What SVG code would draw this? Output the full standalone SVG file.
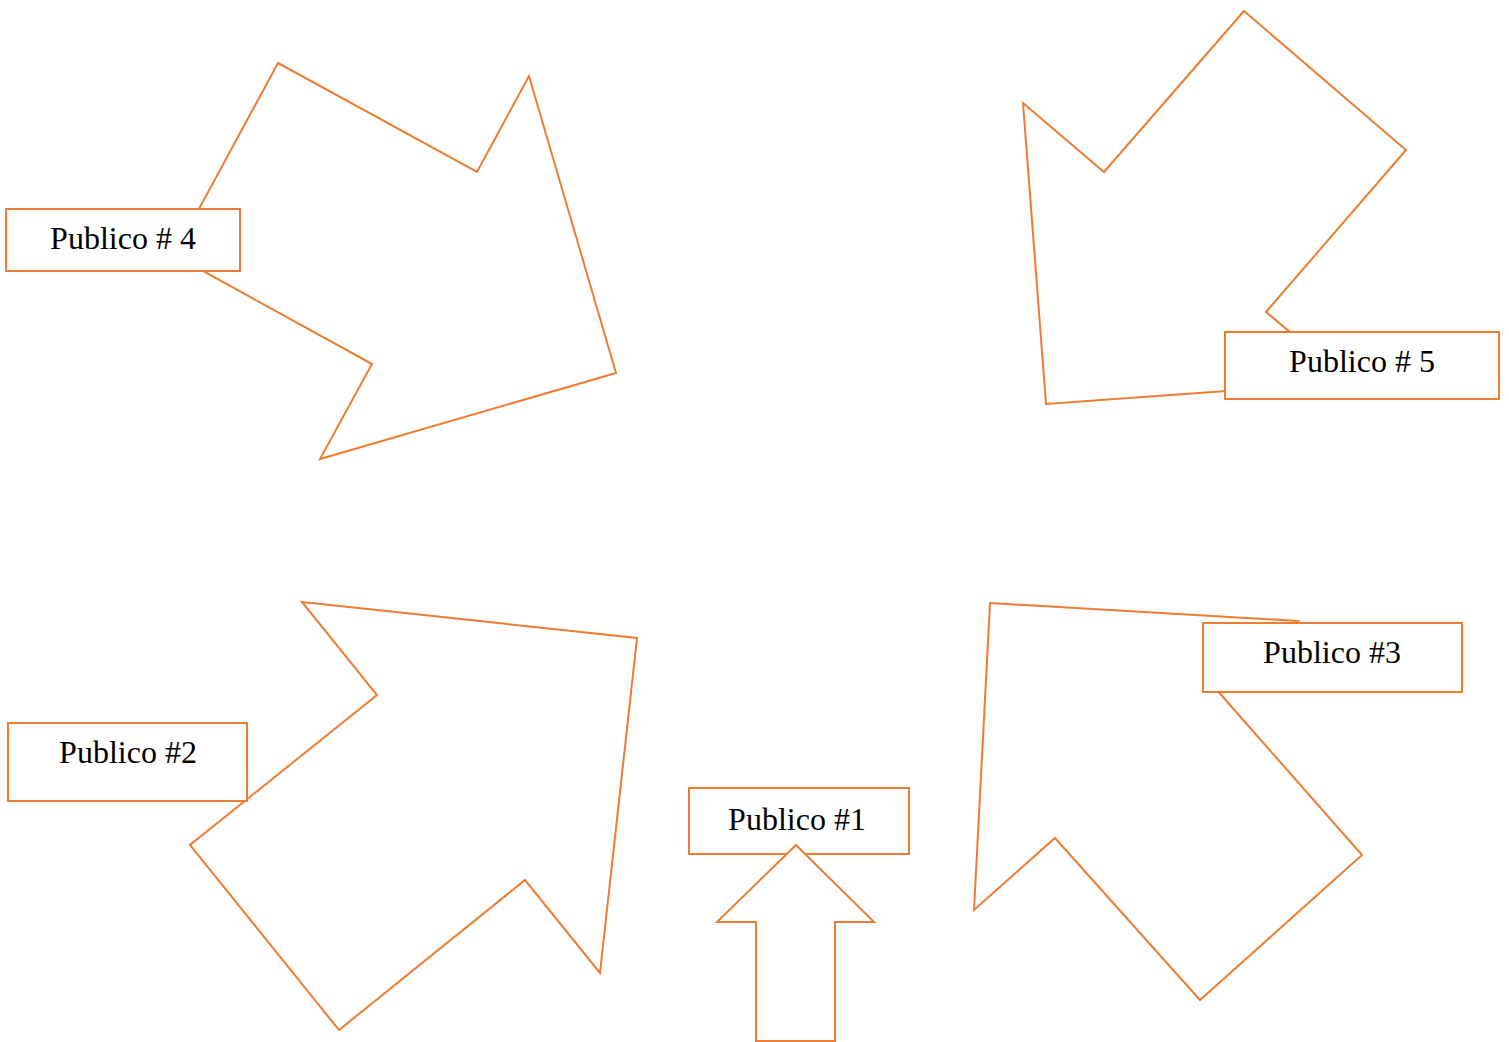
<svg xmlns="http://www.w3.org/2000/svg" width="1509" height="1042" viewBox="0 0 1509 1042">
<style>
.arrow{fill:#ffffff;stroke:#ED7D31;stroke-width:2;stroke-linejoin:miter}
.box{fill:#ffffff;stroke:#ED7D31;stroke-width:2}
.lbl{font-family:"Liberation Serif","Times New Roman",serif;font-size:32px;fill:#000000;text-anchor:middle}
</style>
<rect width="1509" height="1042" fill="#ffffff"/>
<g id="connectors">
<polygon id="arrow4" class="arrow" points="278,63 477,172 529,76 616,373 320,459 372,364 174,255"/>
<polygon id="arrow5" class="arrow" points="1244,11 1406,150 1266,312 1350,382 1046,404 1023,103 1104,172"/>
<polygon id="arrow3" class="arrow" points="990,603 1298,621 1216,689 1362,855 1200,1000 1055,838 974,910"/>
<polygon id="arrow2" class="arrow" points="302,602 637,638 600,973 525,880 339,1030 190,845 377,695"/>
</g>
<g id="node4"><rect class="box" x="6" y="209" width="234" height="62"/><text class="lbl" x="123" y="249">Publico # 4</text></g>
<g id="node5"><rect class="box" x="1225" y="332" width="274" height="67"/><text class="lbl" x="1362" y="372">Publico # 5</text></g>
<g id="node3"><rect class="box" x="1203" y="623" width="259" height="69"/><text class="lbl" x="1332" y="663">Publico #3</text></g>
<g id="node2"><rect class="box" x="8" y="723" width="239" height="78"/><text class="lbl" x="128" y="763">Publico #2</text></g>
<g id="node1"><rect class="box" x="689" y="788" width="220" height="66"/><text class="lbl" x="797" y="830">Publico #1</text></g>
<g id="arrow1-group"><polygon id="arrow1" class="arrow" points="796,845 874,922 835,922 835,1041 756,1041 756,922 717,922"/></g>
</svg>
